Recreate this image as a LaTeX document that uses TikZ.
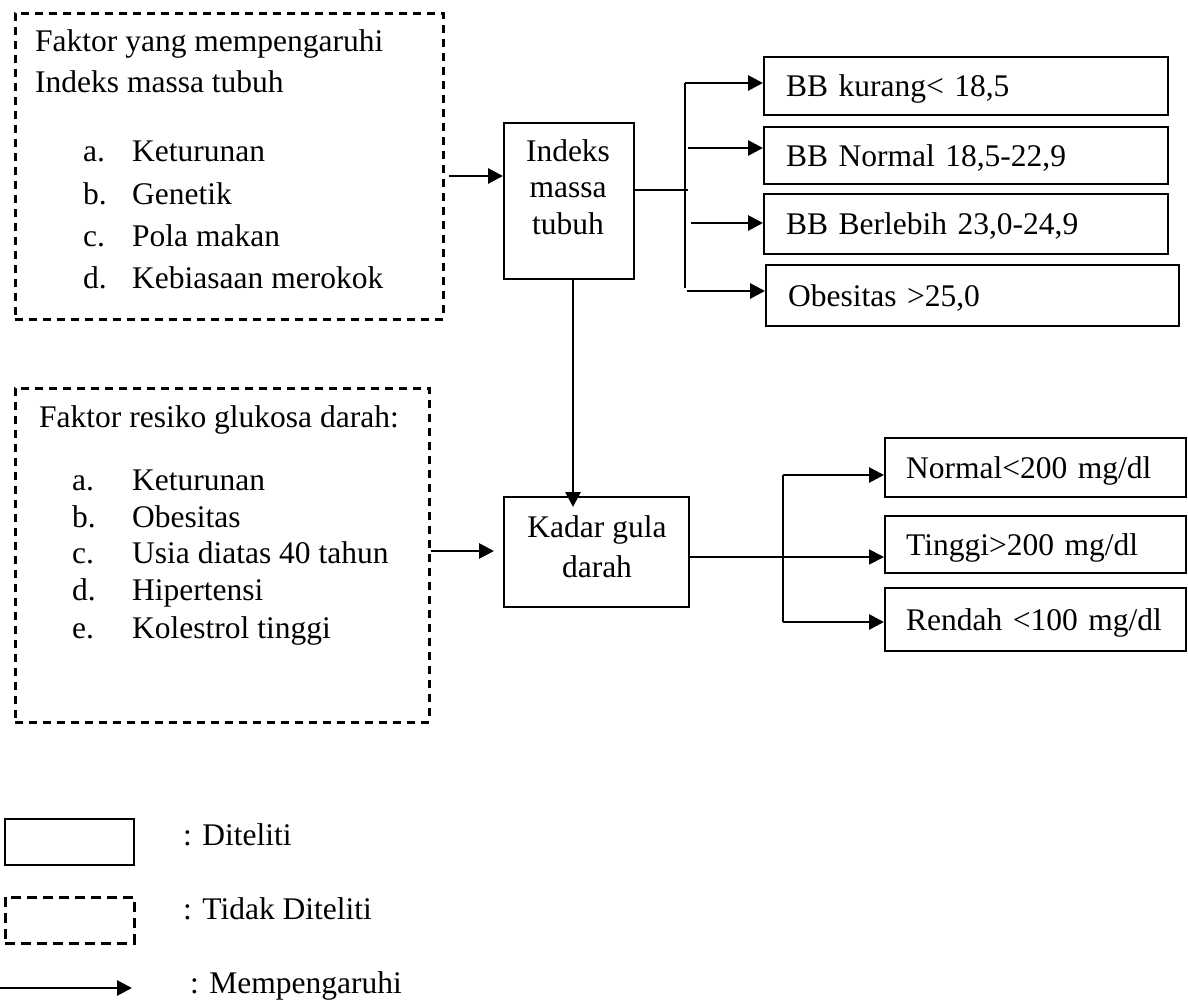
\documentclass[tikz,border=0pt]{standalone}
\usepackage{fontspec}
\setmainfont{Liberation Serif}
\usetikzlibrary{arrows.meta}
\begin{document}
\begin{tikzpicture}[x=1pt,y=-1pt,
  font=\fontsize{31.5}{36}\selectfont,
  lbl/.style={inner sep=0pt, anchor=base west},
  clbl/.style={inner sep=0pt, anchor=base},
  dbox/.style={draw, dash pattern=on 8pt off 6pt, line width=2.6pt, anchor=north west, inner sep=0pt},
  sbox/.style={draw, line width=2.2pt, anchor=north west, inner sep=0pt},
  rbox/.style={draw, line width=2.2pt, anchor=north west, inner ysep=0pt, align=left, text height=21pt, text depth=0pt},
  tip/.style={-{Triangle[length=15pt,width=15pt]}},
  arr/.style={tip, line width=2.8pt},
  ln/.style={line width=2.8pt}]
\useasboundingbox (0,0) rectangle (1188,1000);

% dashed box 1
\node[dbox, minimum width=428, minimum height=306] (f1) at (14,12) {};
\node[lbl] (f1t1) at (35,52) {Faktor yang mempengaruhi};
\node[lbl] (f1t2) at (35,93) {Indeks massa tubuh};
\node[lbl] (f1a) at (83,162) {a.};  \node[lbl] (f1at) at (132,162) {Keturunan};
\node[lbl] (f1b) at (83,205) {b.};  \node[lbl] (f1bt) at (132,205) {Genetik};
\node[lbl] (f1c) at (83,247) {c.};  \node[lbl] (f1ct) at (132,247) {Pola makan};
\node[lbl] (f1d) at (83,288) {d.};  \node[lbl] (f1dt) at (132,288) {Kebiasaan merokok};

% dashed box 2
\node[dbox, minimum width=414, minimum height=334] (f2) at (14,387) {};
\node[lbl] (f2t) at (39,427) {Faktor resiko glukosa darah:};
\node[lbl] (f2a) at (72,490) {a.};  \node[lbl] (f2at) at (132,490) {Keturunan};
\node[lbl] (f2b) at (72,527) {b.};  \node[lbl] (f2bt) at (132,527) {Obesitas};
\node[lbl] (f2c) at (72,563) {c.};  \node[lbl] (f2ct) at (132,563) {Usia diatas 40 tahun};
\node[lbl] (f2d) at (72,600) {d.};  \node[lbl] (f2dt) at (132,600) {Hipertensi};
\node[lbl] (f2e) at (72,638) {e.};  \node[lbl] (f2et) at (132,638) {Kolestrol tinggi};

% IMT box
\node[sbox, minimum width=130, minimum height=156] (imt) at (503,122) {};
\node[clbl] (imt1) at (568,162) {Indeks};
\node[clbl] (imt2) at (568,198) {massa};
\node[clbl] (imt3) at (568,235) {tubuh};

% Kadar box
\node[sbox, minimum width=185, minimum height=110] (kad) at (503,496) {};
\node[clbl] (kad1) at (597,537) {Kadar gula};
\node[clbl] (kad2) at (597,577) {darah};

% right boxes (IMT)
\node[rbox, text width=360, inner xsep=22, minimum height=58] (r1) at (763,56) {BB kurang< 18,5};
\node[rbox, text width=360, inner xsep=22, minimum height=57] (r2) at (763,126) {BB Normal 18,5-22,9};
\node[rbox, text width=360, inner xsep=22, minimum height=60] (r3) at (763,193) {BB Berlebih 23,0-24,9};
\node[rbox, text width=369, inner xsep=22, minimum height=61] (r4) at (765,264) {Obesitas >25,0};

% right boxes (gula)
\node[rbox, text width=259, inner xsep=21, minimum height=59] (g1) at (884,437) {Normal<200 mg/dl};
\node[rbox, text width=259, inner xsep=21, minimum height=57] (g2) at (884,515) {Tinggi>200 mg/dl};
\node[rbox, text width=259, inner xsep=21, minimum height=63] (g3) at (884,587) {Rendah <100 mg/dl};

% connectors
\coordinate (a1) at (449,176);
\draw[arr] (a1) -- (a1 -| imt.west);
\coordinate (j1) at (688,190);
\draw[line width=2.2pt] (imt.east |- j1) -- (j1);
\coordinate (v1t) at (685,83);
\coordinate (v1b) at (685,288);
\draw[ln] (v1t) -- (v1b);
\draw[arr] (v1t) -- (v1t -| r1.west);
\coordinate (b2) at (688,148);
\draw[arr] (b2) -- (b2 -| r2.west);
\coordinate (b3) at (691,223);
\draw[arr] (b3) -- (b3 -| r3.west);
\coordinate (b4) at (687,291);
\draw[arr] (b4) -- (b4 -| r4.west);

\coordinate (k1) at (573,507);
\draw[arr] (imt.south -| k1) -- (k1);

\coordinate (a2) at (494,551);
\draw[arr] (f2.east |- a2) -- (a2);

\coordinate (c2) at (783,557);
\draw[tip, line width=1.8pt] (kad.east |- c2) -- (c2 -| g2.west);
\coordinate (c1) at (783,475);
\coordinate (c3) at (783,622);
\draw[ln] (c1) -- (c3);
\draw[arr] (c1) -- (c1 -| g1.west);
\draw[arr] (c3) -- (c3 -| g3.west);

% legend
\node[sbox, minimum width=129, minimum height=46] (ls) at (4,818) {};
\node[lbl] (lst) at (183,845) {: Diteliti};
\node[dbox, dash pattern=on 10pt off 6pt, minimum width=129, minimum height=46] (ld) at (4,896) {};
\node[lbl] (ldt) at (183,919) {: Tidak Diteliti};
\coordinate (la) at (0,988);
\coordinate (lb) at (132,988);
\draw[arr] (la) -- (lb);
\node[lbl] (lat) at (190,993) {: Mempengaruhi};
\end{tikzpicture}
\end{document}
